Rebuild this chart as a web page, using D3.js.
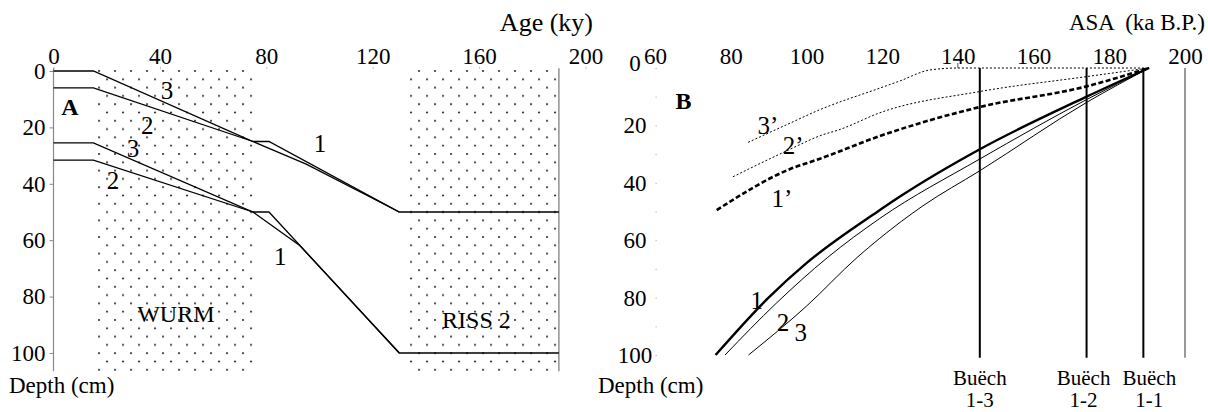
<!DOCTYPE html>
<html>
<head>
<meta charset="UTF-8">
<title>Age-depth curves A / B</title>
<script src="https://d3js.org/d3.v7.min.js"></script>
<style>
  body { margin: 0; background: #fff; }
  svg text { font-family: "Liberation Serif", "Times New Roman", serif; }
</style>
</head>
<body>
<div class="canvas"></div>
<script>
// ---------- data : panel A (age in ky, depth in cm) ----------
const ageTicksA = [0, 40, 80, 120, 160, 200];
const depthTicks = [0, 20, 40, 60, 80, 100];
const periodNames = ["WURM", "RISS 2"];
const periodFrom = [16, 132];
const periodTo = [75, 190];

const upper3 = [[0, 0], [15, 0], [75, 25], [81, 25], [130, 50], [190, 50]];
const upper2 = [[0, 6], [15, 6], [75, 25], [95, 33], [130, 50]];
const lower3 = [[0, 25.5], [15, 25.5], [75, 50], [81, 50], [130, 100], [190, 100]];
const lower2 = [[0, 31.6], [15, 31.6], [75, 50], [92.7, 62], [130, 100]];

// ---------- data : panel B (ASA in ka B.P., depth in cm) ----------
const ageTicksB = [60, 80, 100, 120, 140, 160, 180, 200];
const curve1 = [[76, 100], [90, 80], [100, 68], [119.4, 49.5], [124.7, 44.8], [145.8, 28.3], [174, 10], [190.5, 0]];
const curve2 = [[78.5, 100], [92, 82], [105.6, 66], [119.4, 52.4], [145.8, 31.7], [174, 11], [190.5, 0]];
const curve3 = [[84.7, 100], [100, 83], [113.4, 66], [119.4, 59.3], [130.8, 48], [145.8, 35.8], [174, 12], [190.5, 0]];
const curve1p = [[76.3, 49.5], [95.7, 35.2], [103.6, 31.6], [119.4, 23.7], [145.8, 13.6], [174, 6.4], [190.5, 0]];
const curve2p = [[80.6, 37.9], [95.7, 28.3], [103.6, 23.6], [108.9, 21.4], [119.4, 15.6], [145.8, 8.2], [174, 3], [190.5, 0]];
const curve3p = [[84.6, 25.9], [95.7, 19.2], [103.6, 14.5], [119.4, 7], [124.7, 4.5], [132.6, 0.7], [140, 0], [190.5, 0]];
const siteNames = ["Buëch", "Buëch", "Buëch"];
const siteCodes = ["1-3", "1-2", "1-1"];
const siteAges = [145.8, 174, 189];

// ---------- layout ----------
const width = 1208;
const height = 412;
const fontSize = 23;
const serif = "Liberation Serif, Times New Roman, serif";

const svg = d3.select(".canvas")
    .append("svg")
    .attr("width", width)
    .attr("height", height)
    .attr("font-family", serif);

const xA = d3.scaleLinear().domain([0, 200]).range([53.5, 585.5]);
const yA = d3.scaleLinear().domain([0, 100]).range([71, 353]);
const xB = d3.scaleLinear().domain([60, 200]).range([655, 1185]);
const yB = d3.scaleLinear().domain([0, 100]).range([68, 355]);

// stipple pattern for the cold periods
const defs = svg.append("defs");
const pat = defs.append("pattern")
    .attr("id", "dots")
    .attr("patternUnits", "userSpaceOnUse")
    .attr("x", xA(16) + 2)
    .attr("y", 70)
    .attr("width", 16)
    .attr("height", 16.6);
pat.append("circle").attr("cx", 1).attr("cy", 1).attr("r", 0.9).attr("fill", "#000");
pat.append("circle").attr("cx", 9).attr("cy", 9.3).attr("r", 0.9).attr("fill", "#000");

const gA = svg.append("g");

gA.selectAll("rect.period")
    .data(periodNames)
    .join("rect")
    .attr("class", "period")
    .attr("x", (d, i) => xA(periodFrom[i]))
    .attr("width", (d, i) => xA(periodTo[i]) - xA(periodFrom[i]))
    .attr("y", yA(-0.8))
    .attr("height", yA(106.5) - yA(-0.8))
    .attr("fill", "url(#dots)");

gA.selectAll("text.period")
    .data(periodNames)
    .join("text")
    .attr("class", "period")
    .attr("x", (d, i) => i === 0 ? xA(46) : xA(159))
    .attr("y", (d, i) => i === 0 ? yA(89) : yA(91))
    .attr("text-anchor", "middle")
    .attr("font-size", 24)
    .text(d => d);

// axes A
const xAxisA = d3.axisTop(xA).tickValues(ageTicksA).tickSize(2).tickPadding(3);
gA.append("g")
    .attr("transform", `translate(0, ${yA(-0.8)})`)
    .call(xAxisA)
    .attr("font-family", serif)
    .call(g => g.select(".domain").remove())
    .call(g => g.selectAll("line").attr("stroke", "#bbb"))
    .call(g => g.selectAll("text").attr("font-size", fontSize).attr("fill", "#000"));

const yAxisA = d3.axisLeft(yA).tickValues(depthTicks).tickSize(4).tickPadding(4);
gA.append("g")
    .attr("transform", `translate(${xA(0)}, 0)`)
    .call(yAxisA)
    .attr("font-family", serif)
    .call(g => g.select(".domain").remove())
    .call(g => g.selectAll("line").attr("stroke", "#888"))
    .call(g => g.selectAll("text").attr("font-size", fontSize).attr("fill", "#000"));

// axis frame lines
gA.append("line")
    .attr("x1", xA(0)).attr("x2", xA(0))
    .attr("y1", yA(-1)).attr("y2", yA(106.5))
    .attr("stroke", "#888").attr("stroke-width", 1.2);
gA.append("line")
    .attr("x1", xA(190)).attr("x2", xA(190))
    .attr("y1", yA(-1)).attr("y2", yA(106.5))
    .attr("stroke", "#777").attr("stroke-width", 1.2);

const lineA = d3.line().x(d => xA(d[0])).y(d => yA(d[1]));
gA.selectAll("path.curve")
    .data([upper3, upper2, lower3, lower2])
    .join("path")
    .attr("class", "curve")
    .attr("d", lineA)
    .attr("fill", "none")
    .attr("stroke", "#000")
    .attr("stroke-width", 1.3);

// curve numbers A
const labelsA = [["3", 42.7, 6.7], ["2", 35.2, 19.1], ["3", 29.9, 27.3], ["2", 22.4, 38.7], ["1", 100.2, 25.5], ["1", 85.2, 65.6]];
gA.selectAll("text.num")
    .data(labelsA)
    .join("text")
    .attr("class", "num")
    .attr("x", d => xA(d[1]))
    .attr("y", d => yA(d[2]))
    .attr("dy", "0.35em")
    .attr("text-anchor", "middle")
    .attr("font-size", 25)
    .text(d => d[0]);

gA.append("text")
    .attr("x", xA(6.2)).attr("y", yA(12.8)).attr("dy", "0.35em")
    .attr("text-anchor", "middle")
    .attr("font-size", 24).attr("font-weight", "bold")
    .text("A");

gA.append("text")
    .attr("x", 593).attr("y", 31)
    .attr("text-anchor", "end")
    .attr("font-size", 26)
    .text("Age (ky)");

gA.append("text")
    .attr("x", 9).attr("y", 393)
    .attr("font-size", fontSize)
    .text("Depth (cm)");

// ---------- panel B ----------
const gB = svg.append("g");

const xAxisB = d3.axisTop(xB).tickValues(ageTicksB).tickSize(0).tickPadding(4);
gB.append("g")
    .attr("transform", `translate(0, ${yB(0)})`)
    .call(xAxisB)
    .attr("font-family", serif)
    .call(g => g.select(".domain").remove())
    .call(g => g.selectAll("text").attr("font-size", fontSize).attr("fill", "#000"));

// faint tick marks along the 60 ka edge and the 140 tick
gB.append("g")
    .attr("transform", `translate(${xB(60.5)}, 0)`)
    .call(d3.axisLeft(yB).tickValues(d3.range(0, 101, 10)).tickSize(1.5).tickFormat(""))
    .call(g => g.select(".domain").remove())
    .call(g => g.selectAll("line").attr("stroke", "#bbb"));
gB.append("line")
    .attr("x1", xB(140)).attr("x2", xB(140))
    .attr("y1", yB(0) - 5).attr("y2", yB(0))
    .attr("stroke", "#555");

gB.selectAll("text.ylab")
    .data(depthTicks)
    .join("text")
    .attr("class", "ylab")
    .attr("x", 635)
    .attr("y", d => yB(d))
    .attr("dy", d => d === 0 ? "0.15em" : "0.35em")
    .attr("text-anchor", "middle")
    .attr("font-size", fontSize)
    .text(d => d);

// right grey edge
gB.append("line")
    .attr("x1", xB(200)).attr("x2", xB(200))
    .attr("y1", yB(0)).attr("y2", yB(101))
    .attr("stroke", "#777").attr("stroke-width", 1.5);

// site lines
gB.selectAll("line.site")
    .data(siteAges)
    .join("line")
    .attr("class", "site")
    .attr("x1", d => xB(d)).attr("x2", d => xB(d))
    .attr("y1", yB(0)).attr("y2", yB(101))
    .attr("stroke", "#000").attr("stroke-width", 2);

// label offsets keep the two right-hand names apart
const siteShift = [0, -3, 6];
gB.selectAll("text.siteName")
    .data(siteNames)
    .join("text")
    .attr("class", "siteName")
    .attr("x", (d, i) => xB(siteAges[i]) + siteShift[i])
    .attr("y", 385)
    .attr("text-anchor", "middle")
    .attr("font-size", 21)
    .text(d => d);
gB.selectAll("text.siteCode")
    .data(siteCodes)
    .join("text")
    .attr("class", "siteCode")
    .attr("x", (d, i) => xB(siteAges[i]) + siteShift[i])
    .attr("y", 407)
    .attr("text-anchor", "middle")
    .attr("font-size", 21)
    .text(d => d);

const lineB = d3.line().x(d => xB(d[0])).y(d => yB(d[1])).curve(d3.curveMonotoneX);

const seriesB = [
    { pts: curve3p, w: 1, dash: "2,2" },
    { pts: curve2p, w: 1, dash: "2,2" },
    { pts: curve1p, w: 2.6, dash: "5,2.5" },
    { pts: curve3, w: 1, dash: null },
    { pts: curve2, w: 1, dash: null },
    { pts: curve1, w: 2.4, dash: null }
];
gB.selectAll("path.curve")
    .data(seriesB)
    .join("path")
    .attr("class", "curve")
    .attr("d", d => lineB(d.pts))
    .attr("fill", "none")
    .attr("stroke", "#000")
    .attr("stroke-width", d => d.w)
    .attr("stroke-dasharray", d => d.dash);

const labelsB = [["3’", 89.8, 19.9], ["2’", 96.5, 26.8], ["1’", 93.5, 45.3], ["1", 86.9, 80.8], ["2", 93.8, 88.5], ["3", 98.5, 92]];
gB.selectAll("text.num")
    .data(labelsB)
    .join("text")
    .attr("class", "num")
    .attr("x", d => xB(d[1]))
    .attr("y", d => yB(d[2]))
    .attr("dy", "0.35em")
    .attr("text-anchor", "middle")
    .attr("font-size", 25)
    .text(d => d[0]);

gB.append("text")
    .attr("x", xB(67.5)).attr("y", yB(11.5)).attr("dy", "0.35em")
    .attr("text-anchor", "middle")
    .attr("font-size", 24).attr("font-weight", "bold")
    .text("B");

gB.append("text")
    .attr("x", 1205).attr("y", 30)
    .attr("text-anchor", "end")
    .attr("font-size", fontSize)
    .style("white-space", "pre")
    .text("ASA  (ka B.P.)");

gB.append("text")
    .attr("x", 598).attr("y", 393)
    .attr("font-size", fontSize)
    .text("Depth (cm)");
</script>
</body>
</html>
